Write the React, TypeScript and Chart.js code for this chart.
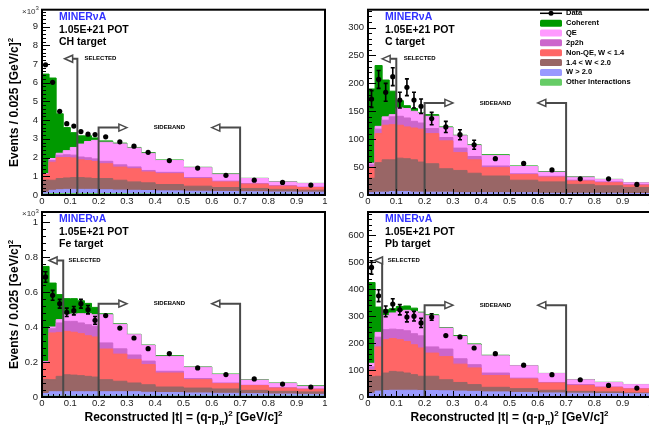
import React, { useEffect, useRef } from "react";
import { Chart, registerables } from "chart.js";
Chart.register(...registerables);

// ---------------- data ----------------
const binEdges = [0, 0.025, 0.05, 0.075, 0.1, 0.125, 0.15, 0.175, 0.2, 0.25, 0.3, 0.35, 0.4, 0.5, 0.6, 0.7, 0.8, 0.9, 1.0];
const binCenters = [0.0125, 0.0375, 0.0625, 0.0875, 0.1125, 0.1375, 0.1625, 0.1875, 0.225, 0.275, 0.325, 0.375, 0.45, 0.55, 0.65, 0.75, 0.85, 0.95];
const xTickValues = [0, 0.1, 0.2, 0.3, 0.4, 0.5, 0.6, 0.7, 0.8, 0.9, 1];

// stacking order, bottom to top
const componentNames = ["Other Interactions", "W > 2.0", "1.4 < W < 2.0", "Non-QE, W < 1.4", "2p2h", "QE", "Coherent"];
const componentColors = ["#66cc66", "#9999ff", "#996666", "#ff6666", "#cc66cc", "#ff99ff", "#009900"];

const legendLabels = ["Data", "Coherent", "QE", "2p2h", "Non-QE, W < 1.4", "1.4 < W < 2.0", "W > 2.0", "Other Interactions"];
const legendColors = [null, "#009900", "#ff99ff", "#cc66cc", "#ff6666", "#996666", "#9999ff", "#66cc66"];

// CH target (x10^3)
const chOther = [0.05, 0.08, 0.08, 0.08, 0.08, 0.08, 0.08, 0.08, 0.07, 0.07, 0.06, 0.06, 0.05, 0.05, 0.04, 0.04, 0.04, 0.03];
const chWgt2 = [0.10, 0.17, 0.20, 0.22, 0.22, 0.22, 0.22, 0.22, 0.21, 0.19, 0.19, 0.18, 0.17, 0.15, 0.15, 0.13, 0.12, 0.12];
const chW1420 = [0.65, 0.54, 0.60, 0.61, 0.63, 0.63, 0.61, 0.58, 0.60, 0.53, 0.45, 0.41, 0.34, 0.27, 0.21, 0.18, 0.14, 0.11];
const chNonQE = [0.30, 0.96, 1.12, 1.09, 1.05, 0.95, 0.93, 0.91, 0.79, 0.70, 0.70, 0.58, 0.58, 0.41, 0.30, 0.23, 0.17, 0.14];
const ch2p2h = [0.02, 0.10, 0.13, 0.15, 0.15, 0.15, 0.15, 0.14, 0.13, 0.12, 0.10, 0.08, 0.07, 0.05, 0.04, 0.03, 0.03, 0.02];
const chQE = [0.02, 0.10, 0.10, 0.22, 0.41, 0.69, 0.87, 0.99, 1.02, 1.12, 1.01, 0.92, 0.63, 0.53, 0.37, 0.27, 0.20, 0.19];
const chCoh = [5.32, 4.30, 2.11, 1.23, 0.79, 0.44, 0.30, 0.13, 0.07, 0.04, 0.03, 0.04, 0.03, 0.02, 0.02, 0.01, 0.01, 0.01];
const chData = [6.96, 6.02, 4.47, 3.81, 3.68, 3.39, 3.25, 3.23, 3.11, 2.84, 2.61, 2.28, 1.84, 1.44, 1.05, 0.79, 0.67, 0.53];
const chErr = [0.12, 0.11, 0.09, 0.08, 0.08, 0.08, 0.08, 0.07, 0.05, 0.05, 0.04, 0.04, 0.03, 0.03, 0.02, 0.02, 0.02, 0.02];
const chYTicks = [0, 1, 2, 3, 4, 5, 6, 7, 8, 9];

// C target
const cOther = [1, 1, 1, 1, 1, 1, 1, 1, 1, 1, 1, 1, 1, 1, 1, 1, 1, 0.5];
const cWgt2 = [3, 4, 4, 5, 5, 5, 4, 4, 4, 4, 3, 3, 3, 3, 2, 2, 2, 2];
const cW1420 = [26, 53, 58, 57, 60, 59, 58, 54, 51, 42, 40, 35, 30, 22.5, 20.5, 16, 13.5, 11];
const cNonQE = [20, 52, 62, 63, 59, 57, 57, 59, 54, 50, 32, 24, 15, 10, 8.5, 6, 5.5, 4.1];
const c2p2h = [4, 8, 9, 14, 16, 16, 12, 11, 9, 6, 8, 6, 3, 1.5, 1.5, 1.5, 1.5, 1.4];
const cQE = [3, 5, 6, 4, 15, 17, 18, 17, 22, 17.5, 22, 20, 18.6, 13, 7.5, 5.5, 4.1, 3];
const cCoh = [133, 109, 66, 42, 13, 5, 5, 1, 3, 1.5, 1, 1, 1.4, 1, 1, 0.5, 0.4, 0.3];
const cData = [172, 207, 184, 212, 170, 193, 170, 159, 137, 122, 108, 90, 65, 56.5, 45, 29, 29, 19];
const cErr = [15, 16, 16, 16, 14, 15, 14, 13, 11, 10, 9, 8, 5, 4, 3, 3, 3, 2];
const cYTicks = [0, 50, 100, 150, 200, 250, 300];

// Fe target (x10^3)
const feOther = [0.005, 0.005, 0.005, 0.005, 0.005, 0.005, 0.005, 0.005, 0.005, 0.005, 0.005, 0.005, 0.005, 0.005, 0.005, 0.005, 0.005, 0.005];
const feWgt2 = [0.015, 0.025, 0.025, 0.025, 0.025, 0.025, 0.025, 0.025, 0.025, 0.025, 0.025, 0.022, 0.02, 0.018, 0.016, 0.014, 0.012, 0.01];
const feW1420 = [0.08, 0.069, 0.088, 0.097, 0.095, 0.092, 0.088, 0.084, 0.069, 0.06, 0.05, 0.043, 0.032, 0.028, 0.025, 0.019, 0.015, 0.014];
const feNonQE = [0.09, 0.267, 0.251, 0.248, 0.245, 0.24, 0.232, 0.229, 0.175, 0.155, 0.135, 0.115, 0.08, 0.048, 0.03, 0.027, 0.019, 0.015];
const fe2p2h = [0.01, 0.024, 0.054, 0.057, 0.062, 0.061, 0.063, 0.061, 0.035, 0.03, 0.025, 0.02, 0.01, 0.006, 0.004, 0.002, 0.002, 0.002];
const feQE = [0.003, 0.01, 0.019, 0.038, 0.042, 0.053, 0.063, 0.066, 0.161, 0.14, 0.116, 0.09, 0.085, 0.065, 0.048, 0.03, 0.025, 0.015];
const feCoh = [0.543, 0.251, 0.143, 0.092, 0.088, 0.074, 0.059, 0.042, 0.005, 0.003, 0.002, 0.002, 0.004, 0.002, 0.003, 0.002, 0.002, 0.003];
const feData = [0.686, 0.581, 0.533, 0.484, 0.493, 0.533, 0.499, 0.438, 0.465, 0.394, 0.337, 0.276, 0.248, 0.166, 0.128, 0.103, 0.074, 0.057];
const feErr = [0.03, 0.028, 0.025, 0.024, 0.024, 0.025, 0.024, 0.022, 0.015, 0.014, 0.012, 0.011, 0.007, 0.006, 0.005, 0.004, 0.004, 0.003];
const feYTicks = [0, 0.2, 0.4, 0.6, 0.8, 1];

// Pb target
const pbOther = [2, 2, 2, 2, 2, 2, 2, 2, 2, 2, 2, 2, 2, 2, 2, 2, 2, 2];
const pbWgt2 = [12, 20, 22, 23, 23, 23, 23, 22, 22, 21, 20, 19, 17, 15, 13, 12, 11, 10];
const pbW1420 = [61, 55, 65, 70, 68, 64, 58, 53, 53, 41, 32, 25, 17, 14, 10, 7, 6, 3];
const pbNonQE = [25, 109, 124, 122, 120, 117, 111, 105, 86, 86, 68, 62, 44, 36, 27, 22, 17, 15];
const pb2p2h = [12, 36, 37, 35, 37, 40, 41, 45, 23, 28, 20, 12, 9, 3, 2, 3, 1, 1];
const pbQE = [13, 18, 52, 60, 68, 76, 83, 85, 116, 78, 83, 74, 64, 46, 33, 18, 17, 15];
const pbCoh = [300, 94, 22, 16, 18, 16, 12, 3, 3, 2, 3, 3, 2, 1, 0.5, 1, 0.5, 0.5];
const pbData = [481, 376, 318, 345, 324, 297, 300, 275, 297, 228, 223, 182, 161, 118, 83, 64, 43, 33];
const pbErr = [25, 22, 20, 20, 19, 18, 18, 17, 12, 11, 11, 10, 5, 4, 4, 3, 3, 3];
const pbYTicks = [0, 100, 200, 300, 400, 500, 600];

// ---------------- layout ----------------
const FONT = "'Liberation Sans', Arial, Helvetica, sans-serif";
const CW = 680;
const CHH = 430;
const YW = 40;
const XH = 20;

const panels = [
  {
    id: "ch", target: "CH target", comps: [chOther, chWgt2, chW1420, chNonQE, ch2p2h, chQE, chCoh],
    data: chData, err: chErr, yTicks: chYTicks, yMax: 9.9, yMinor: 0.2, exponent: true,
    box: { l: 42, r: 325, t: 7, b: 195 }, yTitle: true, xTitle: false, legend: false,
    sel: { cut: 0.125, tip: 0.08, y: 7.28, text: 0.15 }, sb: { y: 3.6 },
  },
  {
    id: "c", target: "C target", comps: [cOther, cWgt2, cW1420, cNonQE, c2p2h, cQE, cCoh],
    data: cData, err: cErr, yTicks: cYTicks, yMax: 332, yMinor: 10, exponent: false,
    box: { l: 368, r: 651, t: 7, b: 195 }, yTitle: false, xTitle: false, legend: true,
    sel: { cut: 0.1, tip: 0.05, y: 244, text: 0.126 }, sb: { y: 165 },
  },
  {
    id: "fe", target: "Fe target", comps: [feOther, feWgt2, feW1420, feNonQE, fe2p2h, feQE, feCoh],
    data: feData, err: feErr, yTicks: feYTicks, yMax: 1.057, yMinor: 0.04, exponent: true,
    box: { l: 42, r: 325, t: 212, b: 397 }, yTitle: true, xTitle: true, legend: false,
    sel: { cut: 0.075, tip: 0.025, y: 0.78, text: 0.094 }, sb: { y: 0.533 },
  },
  {
    id: "pb", target: "Pb target", comps: [pbOther, pbWgt2, pbW1420, pbNonQE, pb2p2h, pbQE, pbCoh],
    data: pbData, err: pbErr, yTicks: pbYTicks, yMax: 687, yMinor: 20, exponent: false,
    box: { l: 368, r: 651, t: 212, b: 397 }, yTitle: false, xTitle: true, legend: false,
    sel: { cut: 0.05, tip: 0.023, y: 507, text: 0.07 }, sb: { y: 341 },
  },
];

type Part = { t: string; size: number; dy?: number; bold?: boolean };

function drawRich(ctx: CanvasRenderingContext2D, parts: Part[], x: number, y: number, align: "left" | "center") {
  let w = 0;
  for (const p of parts) {
    ctx.font = `${p.bold === false ? "" : "bold "}${p.size}px ${FONT}`;
    w += ctx.measureText(p.t).width;
  }
  let cx = align === "center" ? x - w / 2 : x;
  ctx.textAlign = "left";
  for (const p of parts) {
    ctx.font = `${p.bold === false ? "" : "bold "}${p.size}px ${FONT}`;
    ctx.fillText(p.t, cx, y + (p.dy || 0));
    cx += ctx.measureText(p.t).width;
  }
}

function drawCutArrow(ctx: CanvasRenderingContext2D, x0: number, yTop: number, yBottom: number, xTip: number) {
  const dir = xTip > x0 ? 1 : -1;
  const hl = 8;
  ctx.strokeStyle = "#4a4a4a";
  ctx.lineWidth = 2;
  ctx.beginPath();
  ctx.moveTo(x0, yBottom);
  ctx.lineTo(x0, yTop);
  ctx.lineTo(xTip - dir * hl, yTop);
  ctx.stroke();
  ctx.beginPath();
  ctx.moveTo(xTip, yTop);
  ctx.lineTo(xTip - dir * hl, yTop - 3.5);
  ctx.lineTo(xTip - dir * hl, yTop + 3.5);
  ctx.closePath();
  ctx.fillStyle = "#ffffff";
  ctx.fill();
  ctx.lineWidth = 1.5;
  ctx.stroke();
}

function fmtTick(v: number) {
  return String(Math.round(Number(v) * 1000) / 1000);
}

function makeDecor(cfg: any) {
  return {
    id: "decor_" + cfg.id,
    afterDatasetsDraw(chart: any) {
      const { ctx, chartArea: a, scales } = chart;
      const xs = scales.x;
      const ys = scales.y;
      ctx.save();

      // error bars
      ctx.strokeStyle = "#000";
      ctx.lineWidth = 1.6;
      for (let i = 0; i < cfg.data.length; i++) {
        const px = xs.getPixelForValue(binCenters[i]);
        const y1 = ys.getPixelForValue(cfg.data[i] - cfg.err[i]);
        const y2 = ys.getPixelForValue(cfg.data[i] + cfg.err[i]);
        if (y1 - y2 < 6) continue;
        ctx.beginPath();
        ctx.moveTo(px, y1);
        ctx.lineTo(px, y2);
        ctx.moveTo(px - 2, y1);
        ctx.lineTo(px + 2, y1);
        ctx.moveTo(px - 2, y2);
        ctx.lineTo(px + 2, y2);
        ctx.stroke();
      }

      // cut arrows
      const yb = a.bottom;
      drawCutArrow(ctx, xs.getPixelForValue(cfg.sel.cut), ys.getPixelForValue(cfg.sel.y), yb, xs.getPixelForValue(cfg.sel.tip));
      drawCutArrow(ctx, xs.getPixelForValue(0.2), ys.getPixelForValue(cfg.sb.y), yb, xs.getPixelForValue(0.3));
      drawCutArrow(ctx, xs.getPixelForValue(0.7), ys.getPixelForValue(cfg.sb.y), yb, xs.getPixelForValue(0.6));
      ctx.fillStyle = "#000";
      ctx.textBaseline = "middle";
      ctx.font = `bold 6px ${FONT}`;
      ctx.textAlign = "left";
      ctx.fillText("SELECTED", xs.getPixelForValue(cfg.sel.text), ys.getPixelForValue(cfg.sel.y));
      ctx.textAlign = "center";
      ctx.fillText("SIDEBAND", xs.getPixelForValue(0.45), ys.getPixelForValue(cfg.sb.y));

      // ticks
      ctx.strokeStyle = "#000";
      ctx.lineWidth = 1;
      ctx.beginPath();
      for (let k = 0; k <= 50; k++) {
        const px = Math.round(xs.getPixelForValue(k * 0.02)) + 0.5;
        const len = k % 5 === 0 ? 6 : 3;
        ctx.moveTo(px, a.bottom);
        ctx.lineTo(px, a.bottom - len);
      }
      const nMinor = Math.floor(cfg.yMax / cfg.yMinor + 1e-6);
      for (let k = 0; k <= nMinor; k++) {
        const py = Math.round(ys.getPixelForValue(k * cfg.yMinor)) + 0.5;
        ctx.moveTo(a.left, py);
        ctx.lineTo(a.left + 4, py);
      }
      for (const v of cfg.yTicks) {
        const py = Math.round(ys.getPixelForValue(v)) + 0.5;
        ctx.moveTo(a.left, py);
        ctx.lineTo(a.left + 8, py);
      }
      ctx.stroke();

      // frame
      ctx.lineWidth = 2;
      ctx.strokeRect(a.left, a.top, a.right - a.left, a.bottom - a.top);

      // panel labels
      ctx.textAlign = "left";
      ctx.textBaseline = "middle";
      ctx.fillStyle = "#3333ff";
      ctx.font = `bold 10.5px ${FONT}`;
      ctx.fillText("MINERνA", a.left + 17, a.top + 7);
      ctx.fillStyle = "#000";
      ctx.fillText("1.05E+21 POT", a.left + 17, a.top + 20);
      ctx.fillText(cfg.target, a.left + 17, a.top + 32);

      // exponent
      if (cfg.exponent) {
        ctx.fillStyle = "#333";
        drawRich(ctx, [{ t: "×10", size: 8, bold: false }, { t: "3", size: 6, dy: -3, bold: false }], 22, a.top + 2, "left");
      }

      // axis titles
      ctx.fillStyle = "#000";
      if (cfg.yTitle) {
        ctx.save();
        ctx.translate(15, (a.top + a.bottom) / 2);
        ctx.rotate(-Math.PI / 2);
        drawRich(ctx, [{ t: "Events / 0.025 [GeV/c]", size: 12 }, { t: "2", size: 8, dy: -4 }], 0, 0, "center");
        ctx.restore();
      }
      if (cfg.xTitle) {
        drawRich(
          ctx,
          [
            { t: "Reconstructed |t| = (q-p", size: 12 },
            { t: "π", size: 7, dy: 5 },
            { t: ")", size: 12 },
            { t: "2", size: 8, dy: -4 },
            { t: " [GeV/c]", size: 12 },
            { t: "2", size: 8, dy: -4 },
          ],
          (a.left + a.right) / 2,
          418,
          "center"
        );
      }

      // legend
      if (cfg.legend) {
        const bx = 540;
        const bw = 22;
        for (let k = 0; k < legendLabels.length; k++) {
          const yc = 13.3 + k * 9.85;
          if (legendColors[k] === null) {
            ctx.strokeStyle = "#000";
            ctx.lineWidth = 1.5;
            ctx.beginPath();
            ctx.moveTo(bx, yc);
            ctx.lineTo(bx + bw, yc);
            ctx.stroke();
            ctx.fillStyle = "#000";
            ctx.beginPath();
            ctx.arc(bx + bw / 2, yc, 2.5, 0, Math.PI * 2);
            ctx.fill();
          } else {
            ctx.fillStyle = legendColors[k] as string;
            ctx.beginPath();
            (ctx as any).roundRect(bx, yc - 3.5, bw, 7, 1.5);
            ctx.fill();
          }
          ctx.fillStyle = "#000";
          ctx.font = `bold 7.5px ${FONT}`;
          ctx.textAlign = "left";
          ctx.textBaseline = "middle";
          ctx.fillText(legendLabels[k], bx + bw + 4, yc);
        }
      }
      ctx.restore();
    },
  };
}

function buildConfig(cfg: any) {
  const n = binCenters.length;
  const cum: number[][] = [];
  let running = new Array(n).fill(0);
  for (const comp of cfg.comps) {
    running = running.map((v: number, i: number) => v + comp[i]);
    cum.push(running.slice());
  }
  const layerSets = cum.map((vals, k) => ({
    type: "line",
    label: componentNames[k],
    data: binEdges.map((e, i) => ({ x: e, y: vals[Math.min(i, n - 1)] })),
    stepped: true,
    fill: "origin",
    backgroundColor: componentColors[k],
    borderColor: componentColors[k],
    borderWidth: 1,
    pointRadius: 0,
  }));
  const dataSet = {
    type: "line",
    label: "Data",
    data: binCenters.map((x, i) => ({ x, y: cfg.data[i] })),
    showLine: false,
    pointRadius: 2.6,
    pointBackgroundColor: "#000",
    pointBorderColor: "#000",
    borderColor: "#000",
    pointBorderWidth: 0,
    clip: false,
  };
  const b = cfg.box;
  return {
    type: "line",
    data: { datasets: [dataSet, ...layerSets] },
    options: {
      animation: false,
      responsive: false,
      events: [],
      layout: { padding: { left: b.l - YW, top: b.t, right: CW - b.r, bottom: CHH - b.b - XH } },
      plugins: { legend: { display: false }, tooltip: { enabled: false } },
      scales: {
        x: {
          type: "linear",
          min: 0,
          max: 1,
          afterFit: (s: any) => { s.height = XH; },
          afterBuildTicks: (s: any) => { s.ticks = xTickValues.map((v) => ({ value: v })); },
          grid: { display: false, drawTicks: false },
          border: { display: false },
          ticks: { padding: 1, autoSkip: false, maxRotation: 0, color: "#222", font: { family: FONT, size: 9.5 }, callback: (v: any) => fmtTick(v) },
        },
        y: {
          type: "linear",
          min: 0,
          max: cfg.yMax,
          afterFit: (s: any) => { s.width = YW; },
          afterBuildTicks: (s: any) => { s.ticks = cfg.yTicks.map((v: number) => ({ value: v })); },
          grid: { display: false, drawTicks: false },
          border: { display: false },
          ticks: { padding: 4, autoSkip: false, color: "#222", font: { family: FONT, size: 9.5 }, callback: (v: any) => fmtTick(v) },
        },
      },
    },
    plugins: [makeDecor(cfg)],
  };
}

function Panel({ cfg }: { cfg: any }) {
  const ref = useRef<HTMLCanvasElement>(null);
  useEffect(() => {
    const chart = new Chart(ref.current as HTMLCanvasElement, buildConfig(cfg) as any);
    return () => chart.destroy();
  }, [cfg]);
  return (
    <canvas
      ref={ref}
      width={CW}
      height={CHH}
      style={{ position: "absolute", left: 0, top: 0, width: CW, height: CHH }}
    />
  );
}

export default function App() {
  return (
    <div style={{ position: "absolute", left: 0, top: 0, width: 649, height: 430, overflow: "hidden", background: "#fff" }}>
      {panels.map((p) => (
        <Panel key={p.id} cfg={p} />
      ))}
    </div>
  );
}
